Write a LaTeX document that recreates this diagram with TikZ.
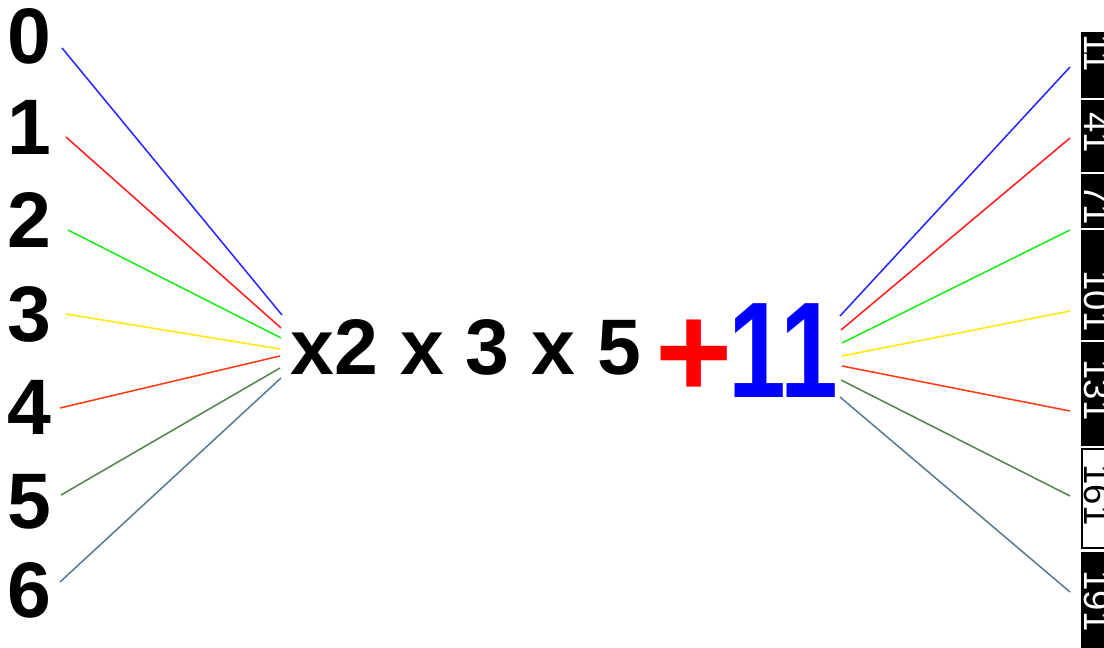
\documentclass[tikz,border=0pt]{standalone}
\usepackage{fontspec}
\setmainfont{Liberation Sans}
\definecolor{lnblue}{RGB}{40,40,255}
\definecolor{lnred}{RGB}{255,30,30}
\definecolor{lngreen}{RGB}{30,235,30}
\definecolor{lnyellow}{RGB}{255,235,0}
\definecolor{lnorange}{RGB}{255,60,20}
\definecolor{lndkgreen}{RGB}{85,135,80}
\definecolor{lnslate}{RGB}{90,125,145}
\begin{document}
\begin{tikzpicture}[x=0.025cm, y=-0.025cm,
  digit/.style={inner sep=0pt, font=\fontsize{56}{56}\selectfont\bfseries},
  wire/.style={line width=1.1pt},
  tag/.style={rotate=-90, inner sep=0pt, text=white, font=\fontsize{26}{26}\selectfont},
  cell/.style={fill=black}]
  \useasboundingbox (0,0) rectangle (1104,648);
  \fill[white] (0,0) rectangle (1104,648);
  % left column
  \node[digit] (d0) at (29,36) {0}; \node[digit] (d1) at (29,127) {1};
  \node[digit] (d2) at (29,220) {2}; \node[digit] (d3) at (29,314) {3};
  \node[digit] (d4) at (29,407) {4}; \node[digit] (d5) at (29,502) {5};
  \node[digit] (d6) at (29,590) {6};
  % middle
  \node[digit] (ops) at (466,347) {x2 x 3 x 5};
  \node[anchor=base west, inner sep=0pt, font=\bfseries] (sum) at (655,398)
    {{\color{red}\fontsize{94}{94}\selectfont +}\hspace{-3pt}{\color{blue}\fontsize{97}{97}\selectfont\scalebox{0.76}[1]{11}}};
  % right column
  \fill[cell] (1081,32) rectangle (1110,98); \fill[cell] (1081,100) rectangle (1110,172);
  \fill[cell] (1081,174) rectangle (1110,228); \fill[cell] (1081,230) rectangle (1110,340);
  \fill[cell] (1081,342) rectangle (1110,446); \fill[cell] (1081,552) rectangle (1110,660);
  \draw[line width=1.5pt, fill=white] (1082,449) rectangle (1115,548);
  \node[tag] (t11) at (1097,53) {11}; \node[tag] (t41) at (1097,133) {41};
  \node[tag] (t71) at (1097,205) {71}; \node[tag] (t101) at (1097,301) {101};
  \node[tag] (t131) at (1097,390) {131}; \node[tag, text=black] (t161) at (1097,495) {161};
  \node[tag] (t191) at (1097,601) {191};
  % connectors
  \coordinate (a0) at (62,48); \coordinate (b0) at (282,315);
  \coordinate (a1) at (66,137); \coordinate (b1) at (281,328);
  \coordinate (a2) at (68,230); \coordinate (b2) at (281,338);
  \coordinate (a3) at (66,314); \coordinate (b3) at (280,349);
  \coordinate (a4) at (60,408); \coordinate (b4) at (280,356);
  \coordinate (a5) at (61,495); \coordinate (b5) at (280,368);
  \coordinate (a6) at (60,582); \coordinate (b6) at (281,378);
  \coordinate (c0) at (840,316); \coordinate (e0) at (1070,67);
  \coordinate (c1) at (841,330); \coordinate (e1) at (1070,138);
  \coordinate (c2) at (842,343); \coordinate (e2) at (1070,230);
  \coordinate (c3) at (842,356); \coordinate (e3) at (1070,311);
  \coordinate (c4) at (842,366); \coordinate (e4) at (1070,411);
  \coordinate (c5) at (841,380); \coordinate (e5) at (1070,496);
  \coordinate (c6) at (840,397); \coordinate (e6) at (1070,592);
  \draw[wire, lnblue] (a0) -- (b0); \draw[wire, lnblue] (c0) -- (e0);
  \draw[wire, lnred] (a1) -- (b1); \draw[wire, lnred] (c1) -- (e1);
  \draw[wire, lngreen] (a2) -- (b2); \draw[wire, lngreen] (c2) -- (e2);
  \draw[wire, lnyellow] (a3) -- (b3); \draw[wire, lnyellow] (c3) -- (e3);
  \draw[wire, lnorange] (a4) -- (b4); \draw[wire, lnorange] (c4) -- (e4);
  \draw[wire, lndkgreen] (a5) -- (b5); \draw[wire, lndkgreen] (c5) -- (e5);
  \draw[wire, lnslate] (a6) -- (b6); \draw[wire, lnslate] (c6) -- (e6);
\end{tikzpicture}
\end{document}
